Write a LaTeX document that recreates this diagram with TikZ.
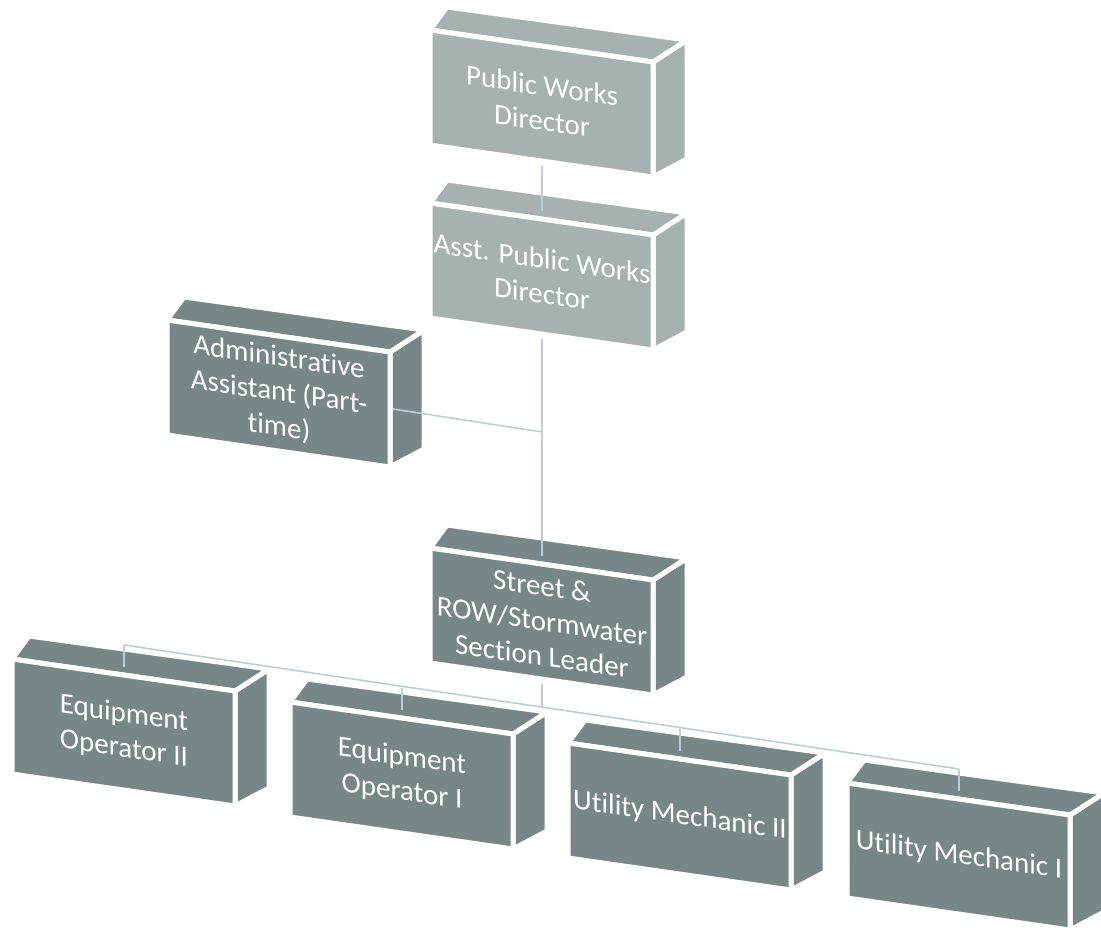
\documentclass[tikz,border=0pt]{standalone}
\usepackage{fontspec}
\setmainfont{Carlito}[Ligatures=NoCommon]
\usetikzlibrary{positioning}

\definecolor{litegray}{HTML}{A7B1B2}
\definecolor{darkgray}{HTML}{778788}
\definecolor{linkblue}{HTML}{B9CFD6}

% one perspective box: name, x, y, fill style, text
\newcommand\orgbox[5]{%
  \begin{scope}[shift={(#2,#3)}]
    \filldraw[face,#4] (223,32) -- (257,10) -- (257,129) -- (223,147) -- cycle;
    \filldraw[face,#4] (0,0) -- (17,-23) -- (257,10) -- (223,32) -- cycle;
    \filldraw[face,#4] (0,0) -- (223,32) -- (223,147) -- (0,115) -- cycle;
    \node[boxtext] (#1) at (112,73) {#5};
    \coordinate (#1-top) at (112,8);
    \coordinate (#1-bot) at (112,136);
    \coordinate (#1-east) at (226,89);
    \coordinate (#1-bus) at (112,-14);
  \end{scope}}

\begin{document}
\begin{tikzpicture}[x=1pt, y=-1pt,
    face/.style = {draw=white, line width=5pt, line join=round},
    lite/.style = {fill=litegray},
    dark/.style = {fill=darkgray},
    boxtext/.style = {text=white, align=center, yslant=-0.143, inner sep=0pt,
      font=\fontsize{29}{35}\selectfont},
    link/.style = {draw=linkblue, line width=1.6pt}]
    \useasboundingbox (0,0) rectangle (1101,930);

    \orgbox{pwd}{430}{30}{lite}{Public Works\\Director}
    \orgbox{asst}{430}{203}{lite}{Asst. Public Works\\Director}
    \orgbox{admin}{167}{320}{dark}{Administrative\\Assistant (Part-\\time)}
    \orgbox{street}{430}{548}{dark}{Street \&\\ROW/Stormwater\\Section Leader}
    \orgbox{eo2}{12}{659}{dark}{Equipment\\Operator II}
    \orgbox{eo1}{290}{702}{dark}{Equipment\\Operator I}
    \orgbox{um2}{568}{743}{dark}{Utility Mechanic II}
    \orgbox{um1}{847}{783}{dark}{Utility Mechanic I}

    \coordinate (join) at (542,432);
    \coordinate (drop) at (542,708);

    \draw[link] (pwd-bot) -- (asst-top);
    \draw[link] (asst-bot) -- (street-top);
    \draw[link] (admin-east) -- (join);
    \draw[link] (street-bot) -- (drop);
    \draw[link] (eo2-bus) -- (um1-bus);
    \draw[link] (eo2-bus) -- (eo2-top);
    \draw[link] (eo1-bus) -- (eo1-top);
    \draw[link] (um2-bus) -- (um2-top);
    \draw[link] (um1-bus) -- (um1-top);
\end{tikzpicture}
\end{document}
